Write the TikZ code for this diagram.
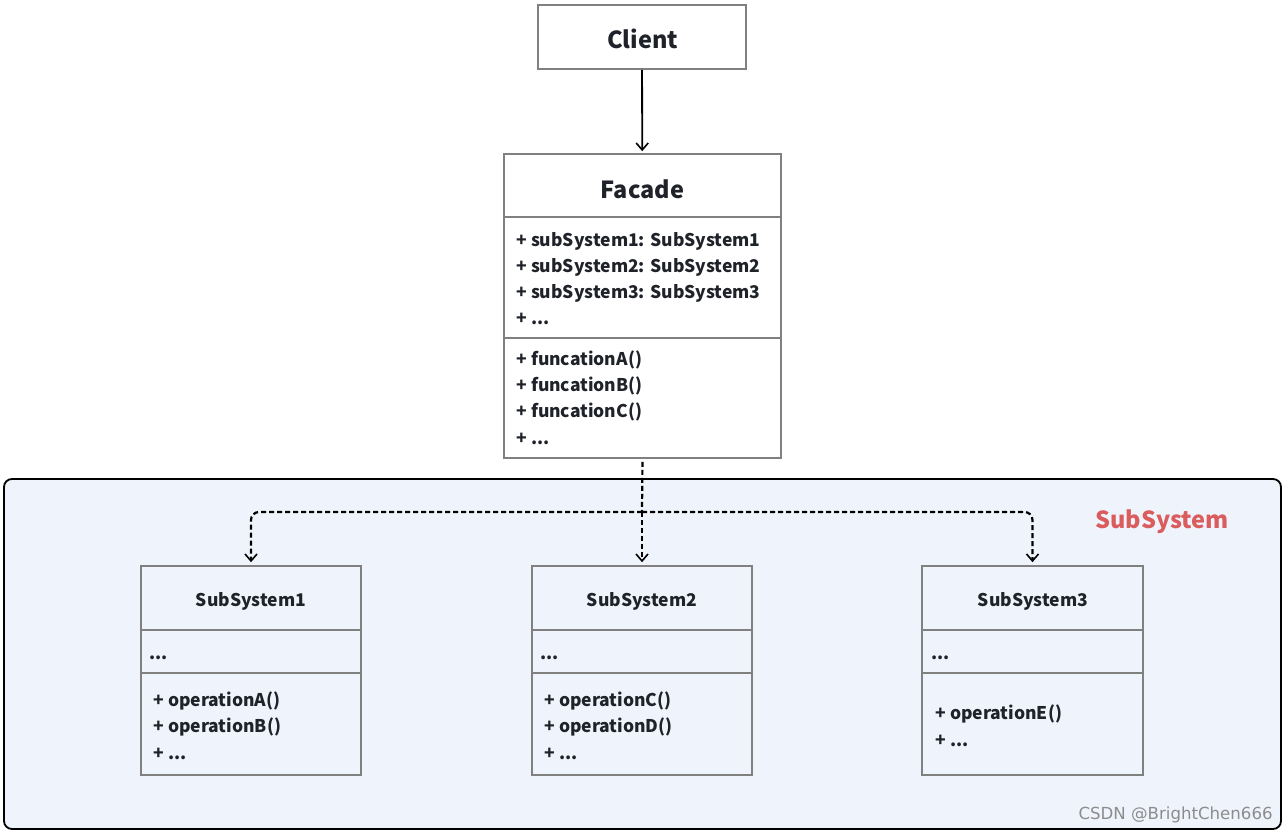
\documentclass[tikz,border=0pt]{standalone}
\usepackage{fontspec}
\setmainfont{Noto Sans CJK SC}
\newfontfamily\markfont{DejaVu Sans}
\usetikzlibrary{arrows.meta}

\definecolor{boxgray}{RGB}{128,128,128}
\definecolor{inkdark}{RGB}{31,35,41}
\definecolor{panelblue}{RGB}{239,243,252}
\definecolor{subred}{RGB}{218,92,92}
\definecolor{markgray}{RGB}{140,140,140}

\tikzset{every picture/.style={line width=0.75pt}}
\tikzset{
  umlbox/.style={draw=boxgray, line width=1.6pt, inner sep=0pt, text=inkdark},
  bigtitle/.style={font=\fontsize{23.5}{27}\selectfont\bfseries},
  smalltitle/.style={font=\fontsize{17.5}{20}\selectfont\bfseries},
  member/.style={anchor=west, inner sep=0pt, text=inkdark, font=\fontsize{17.5}{20}\selectfont\bfseries},
  divider/.style={draw=boxgray, line width=1.6pt},
  assoc/.style={draw=black, line width=1.8pt, -{Straight Barb[length=7pt,width=12pt,line width=1.6pt]}, shorten >=2pt},
  dep/.style={draw=black, line width=2.2pt, dash pattern={on 5pt off 3pt}, rounded corners=8pt},
  deparrow/.style={dep, -{Straight Barb[length=7pt,width=12pt,line width=1.6pt]}, shorten >=3pt}
}

\begin{document}
\begin{tikzpicture}[x=1pt,y=1pt,yscale=-1,xscale=1]
\useasboundingbox (0,0) rectangle (1288,833);

% SubSystem panel
\draw [fill=panelblue, line width=1.8pt, rounded corners=8pt] (4,479) rectangle (1281,829);
% Text Node
\node [text=subred, font=\fontsize{23.5}{27}\selectfont\bfseries, inner sep=0pt] (paneltitle) at (1162,522) {SubSystem};

% Client
\node [umlbox, fill=white, minimum width=208, minimum height=64] (client) at (642,37) {};
\node [bigtitle, text=inkdark, inner sep=0pt] (clienttitle) at (642.5,39) {Client};

% Facade
\node [umlbox, fill=white, minimum width=277, minimum height=304] (facade) at (642.5,306) {};
\node [bigtitle, text=inkdark, inner sep=0pt] (facadetitle) at (642.5,189) {Facade};
\draw [divider] (facade.west |- 0,217) -- (facade.east |- 0,217);
\draw [divider] (facade.west |- 0,338) -- (facade.east |- 0,338);
% Text Node
\node [member] (fattr1) at (516,241) {+ subSystem1: SubSystem1};
\node [member] (fattr2) at (516,267) {+ subSystem2: SubSystem2};
\node [member] (fattr3) at (516,293) {+ subSystem3: SubSystem3};
\node [member] (fattr4) at (516,319) {+ ...};
% Text Node
\node [member] (fop1) at (516,360) {+ funcationA()};
\node [member] (fop2) at (516,386) {+ funcationB()};
\node [member] (fop3) at (516,412) {+ funcationC()};
\node [member] (fop4) at (516,439) {+ ...};

% SubSystem1
\node [umlbox, minimum width=220, minimum height=209] (ssone) at (251,670.5) {};
\node [smalltitle, text=inkdark, inner sep=0pt] (ssonetitle) at (251,601) {SubSystem1};
\draw [divider] (ssone.west |- 0,630) -- (ssone.east |- 0,630);
\draw [divider] (ssone.west |- 0,673) -- (ssone.east |- 0,673);
\node [member] (ssoneattr) at (149,658) {...};
\node [member] (ssoneop1) at (153,701) {+ operationA()};
\node [member] (ssoneop2) at (153,727) {+ operationB()};
\node [member] (ssoneop3) at (153,754) {+ ...};

% SubSystem2
\node [umlbox, minimum width=220, minimum height=209] (sstwo) at (642,670.5) {};
\node [smalltitle, text=inkdark, inner sep=0pt] (sstwotitle) at (642,601) {SubSystem2};
\draw [divider] (sstwo.west |- 0,630) -- (sstwo.east |- 0,630);
\draw [divider] (sstwo.west |- 0,673) -- (sstwo.east |- 0,673);
\node [member] (sstwoattr) at (540,658) {...};
\node [member] (sstwoop1) at (544,701) {+ operationC()};
\node [member] (sstwoop2) at (544,727) {+ operationD()};
\node [member] (sstwoop3) at (544,754) {+ ...};

% SubSystem3
\node [umlbox, minimum width=221, minimum height=209] (ssthree) at (1032.5,670.5) {};
\node [smalltitle, text=inkdark, inner sep=0pt] (ssthreetitle) at (1033,601) {SubSystem3};
\draw [divider] (ssthree.west |- 0,630) -- (ssthree.east |- 0,630);
\draw [divider] (ssthree.west |- 0,673) -- (ssthree.east |- 0,673);
\node [member] (ssthreeattr) at (931,658) {...};
\node [member] (ssthreeop1) at (935,714) {+ operationE()};
\node [member] (ssthreeop2) at (935,741) {+ ...};

% Connectors
\draw [assoc] (client) -- (facade);
\coordinate (fork) at (642,512);
\draw [dep, shorten <=3pt] (facade.south) -- (fork);
\draw [deparrow] (fork) -| (ssone.north);
\draw [deparrow] (fork) -- (sstwo.north);
\draw [deparrow] (fork) -| (ssthree.north);

% Text Node
\node [anchor=east, inner sep=0pt, text=markgray, font=\markfont\fontsize{16.6}{19}\selectfont] (csdnmark) at (1273,815) {CSDN @BrightChen666};

\end{tikzpicture}
\end{document}
